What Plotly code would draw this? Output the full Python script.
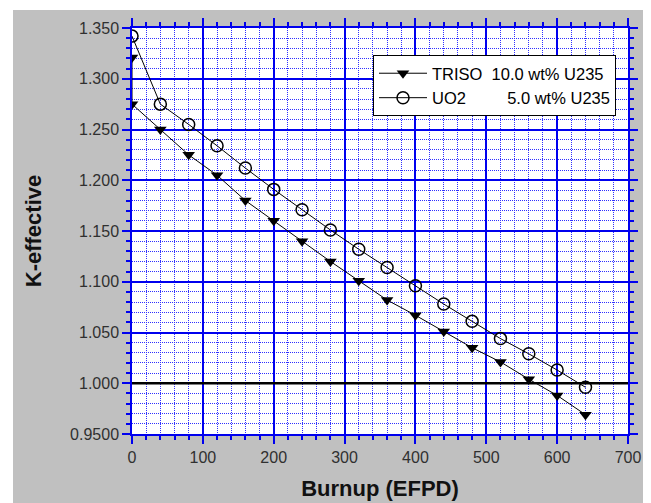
import plotly.graph_objects as go

burnup_triso = [0, 0, 40, 80, 120, 160, 200, 240, 280, 320, 360, 400, 440, 480, 520, 560, 600, 640]
keff_triso = [1.321, 1.275, 1.250, 1.225, 1.205, 1.180, 1.160, 1.140, 1.120, 1.101, 1.082, 1.067,
              1.051, 1.035, 1.021, 1.004, 0.988, 0.969]
burnup_uo2 = [0, 40, 80, 120, 160, 200, 240, 280, 320, 360, 400, 440, 480, 520, 560, 600, 640]
keff_uo2 = [1.342, 1.275, 1.255, 1.234, 1.212, 1.191, 1.171, 1.151, 1.132, 1.114, 1.096, 1.078,
            1.061, 1.044, 1.029, 1.013, 0.996]
y_ticks = [0.95, 1.0, 1.05, 1.1, 1.15, 1.2, 1.25, 1.3, 1.35]
y_ticktext = ["0.9500", "1.000", "1.050", "1.100", "1.150", "1.200", "1.250", "1.300", "1.350"]
x_ticks = [0, 100, 200, 300, 400, 500, 600, 700]

nb = "\u00a0"
name_triso = "TRISO" + nb * 2 + "10.0 wt% U235"
name_uo2 = "UO2" + nb * 9 + "5.0 wt% U235"

L, R, T, B = 124, 31, 20, 77
W, H = 651, 503
pw, ph = W - L - R, H - T - B

fig = go.Figure()
fig.add_trace(go.Scatter(
    x=burnup_triso, y=keff_triso, mode="lines+markers", name=name_triso,
    line=dict(color="black", width=1),
    marker=dict(symbol="triangle-down", size=11, color="black"),
))
fig.add_trace(go.Scatter(
    x=burnup_uo2, y=keff_uo2, mode="lines+markers", name=name_uo2,
    line=dict(color="black", width=1),
    marker=dict(symbol="circle-open", size=12, color="black", line=dict(width=1.5)),
))

fig.add_shape(type="line", xref="paper", yref="y", x0=0, x1=1, y0=1.0, y1=1.0,
              line=dict(color="black", width=2.5), layer="above")
# white page strips at left/top like the reference window
fig.add_shape(type="rect", xref="paper", yref="paper", x0=-L / pw, x1=-(L - 5) / pw,
              y0=-B / ph, y1=1 + T / ph, fillcolor="white", line=dict(width=0), layer="above")
fig.add_shape(type="rect", xref="paper", yref="paper", x0=-L / pw, x1=1 + R / pw,
              y0=1 + (T - 2) / ph, y1=1 + T / ph, fillcolor="white", line=dict(width=0), layer="above")

blue = "#0000ee"
minor_blue = "#3030ff"
fig.update_xaxes(
    range=[0, 700], tickvals=x_ticks, ticks="outside", ticklen=8, tickcolor=blue, tickwidth=1.5,
    showgrid=True, gridcolor=blue, gridwidth=1.5,
    minor=dict(dtick=20, showgrid=True, gridcolor=minor_blue, griddash="1px,1px", gridwidth=1,
               ticks="outside", ticklen=4, tickcolor=blue),
    showline=True, linecolor=blue, linewidth=1.5, mirror="allticks",
    zeroline=False,
    title=dict(text="<b>Burnup (EFPD)</b>", font=dict(size=22, color="#111111"), standoff=16),
    tickfont=dict(size=16, color="#303030"),
)
fig.update_yaxes(
    range=[0.95, 1.35], tickvals=y_ticks, ticktext=y_ticktext, ticks="outside", ticklen=8,
    tickcolor=blue, tickwidth=1.5,
    showgrid=True, gridcolor=blue, gridwidth=1.5,
    minor=dict(dtick=0.01, showgrid=True, gridcolor=minor_blue, griddash="1px,1px", gridwidth=1,
               ticks="outside", ticklen=4, tickcolor=blue),
    showline=True, linecolor=blue, linewidth=1.5, mirror="allticks",
    zeroline=False,
    title=dict(text="<b>K-effective</b>", font=dict(size=22, color="#111111"), standoff=22),
    tickfont=dict(size=16, color="#303030"),
)

fig.update_layout(
    width=W, height=H,
    margin=dict(l=L, r=R, t=T, b=B, autoexpand=False),
    paper_bgcolor="#c0c0c0", plot_bgcolor="white",
    font=dict(family="Liberation Sans, Arial, sans-serif", color="#202020"),
    showlegend=True,
    legend=dict(x=(373 - 132) / 496, y=(434 - 55) / 406, xanchor="left", yanchor="top",
                bgcolor="white", bordercolor="black", borderwidth=1, itemwidth=48,
                font=dict(size=16.5, color="black"), tracegroupgap=0),
)

fig.write_html("out.html")
